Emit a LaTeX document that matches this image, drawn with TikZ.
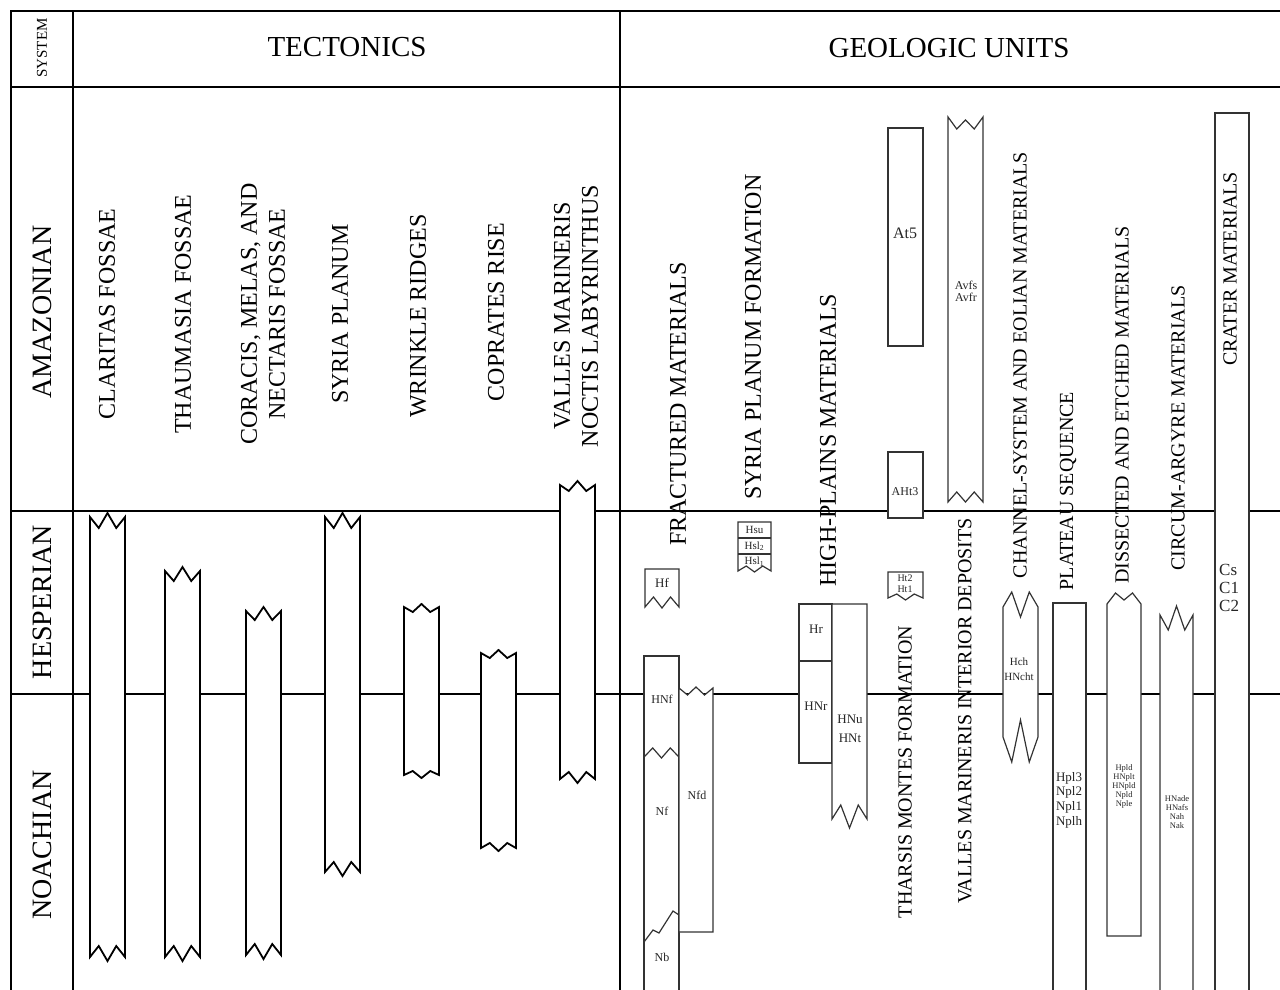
\documentclass[tikz,border=0pt]{standalone}
\usepackage{fontspec}
\setmainfont{Liberation Serif}
% bar with zigzag (or flat) ends: style, x1, x2, top corner, top in, top out, bottom corner, bottom in, bottom out
\newcommand\mybar[9]{%
\draw[#1] (#2,#4) -- ({#2+(#3-#2)/4},{#4+#5}) -- ({(#2+#3)/2},{#4-#6}) -- ({#2+3*(#3-#2)/4},{#4+#5}) -- (#3,#4)
 -- (#3,#7) -- ({#2+3*(#3-#2)/4},{#7-#8}) -- ({(#2+#3)/2},{#7+#9}) -- ({#2+(#3-#2)/4},{#7-#8}) -- (#2,#7) -- cycle;}
\begin{document}
\begin{tikzpicture}[x=1pt,y=-1pt,
  frame/.style={line width=2pt,black},
  tbar/.style={draw=black,line width=1.8pt,fill=white,line join=miter},
  gbar/.style={draw=black!80,line width=1.2pt,fill=white,line join=miter},
  gline/.style={draw=black!80,line width=1.2pt},
  hdr/.style={font=\fontsize{29}{31}\selectfont,inner sep=0pt},
  per/.style={rotate=90,font=\fontsize{28}{30}\selectfont,inner sep=0pt},
  tlbl/.style={rotate=90,align=center,font=\fontsize{24}{28}\selectfont,inner sep=0pt},
  glbl/.style={rotate=90,align=center,font=\fontsize{20}{24}\selectfont,inner sep=0pt},
  unit/.style={align=center,text=black!85,inner sep=0pt,font=\fontsize{12}{14}\selectfont}]
\useasboundingbox (0,0) rectangle (1280,990);
\clip (0,0) rectangle (1280,990);
\fill[white] (0,0) rectangle (1280,990);

% frame
\draw[frame] (1285,11) -- (11,11) -- (11,995);
\draw[frame] (73,11) -- (73,995);
\draw[frame] (620,11) -- (620,995);
\draw[frame] (11,87) -- (1285,87);
\draw[frame] (11,511) -- (1285,511);
\draw[frame] (11,694) -- (1285,694);

% headers
\node[rotate=90,font=\fontsize{15}{17}\selectfont,inner sep=0pt] (sys) at (42,48) {SYSTEM};
\node[hdr] (tec) at (347,47) {TECTONICS};
\node[hdr] (geo) at (949,48) {GEOLOGIC UNITS};
\node[per] (ama) at (42,312) {AMAZONIAN};
\node[per] (hes) at (42,602) {HESPERIAN};
\node[per] (noa) at (42,845) {NOACHIAN};

% tectonics labels
\node[tlbl] (t1) at (107,314) {CLARITAS FOSSAE};
\node[tlbl] (t2) at (183,314) {THAUMASIA FOSSAE};
\node[tlbl] (t3) at (263,314) {CORACIS, MELAS, AND\\NECTARIS FOSSAE};
\node[tlbl] (t4) at (340,314) {SYRIA PLANUM};
\node[tlbl] (t5) at (418,316) {WRINKLE RIDGES};
\node[tlbl] (t6) at (496,312) {COPRATES RISE};
\node[tlbl] (t7) at (576,316) {VALLES MARINERIS\\NOCTIS LABYRINTHUS};

% tectonics bars
\mybar{tbar}{90}{125}{517}{11}{4}{957}{11}{4}
\mybar{tbar}{165}{200}{571}{10}{4}{957}{11}{4}
\mybar{tbar}{246}{281}{611}{9}{4}{955}{11}{4}
\mybar{tbar}{325}{360}{517}{11}{4}{872}{10}{4}
\mybar{tbar}{404}{439}{607}{5}{3}{775}{4}{3}
\mybar{tbar}{481}{516}{653}{5}{3}{848}{5}{3}
\mybar{tbar}{560}{595}{485}{6}{4}{779}{7}{4}

% geologic unit labels
\node[tlbl] (g1) at (678,404) {FRACTURED MATERIALS};
\node[tlbl] (g2) at (753,337) {SYRIA PLANUM FORMATION};
\node[tlbl] (g3) at (828,440) {HIGH-PLAINS MATERIALS};
\node[glbl] (g4) at (905,772) {THARSIS MONTES FORMATION};
\node[glbl] (g5) at (965,711) {VALLES MARINERIS INTERIOR DEPOSITS};
\node[glbl] (g6) at (1020,365) {CHANNEL-SYSTEM AND EOLIAN MATERIALS};
\node[glbl] (g7) at (1068,491) {PLATEAU SEQUENCE};
\node[glbl] (g8) at (1122,405) {DISSECTED AND ETCHED MATERIALS};
\node[glbl] (g9) at (1178,428) {CIRCUM-ARGYRE MATERIALS};

% fractured materials
\mybar{gbar}{645}{679}{569}{0}{0}{607}{10}{1}
\node[unit,font=\fontsize{13}{15}\selectfont] (hf) at (662,583) {Hf};
\mybar{gbar}{644}{679}{656}{0}{0}{1000}{0}{0}
\draw[gline] (644,757) -- (652.75,748) -- (661.5,758) -- (670.25,748) -- (679,757);
\draw[gline] (644,942) -- (653,930) -- (659,933) -- (673,911) -- (679,915);
\node[unit] (hnf) at (662,699) {HNf};
\node[unit] (nf) at (662,811) {Nf};
\node[unit] (nb) at (662,957) {Nb};
\mybar{gbar}{679}{713}{688}{7}{1}{932}{0}{0}
\node[unit] (nfd) at (697,795) {Nfd};

% syria planum formation
\mybar{gbar}{738}{771}{522}{0}{0}{571}{5}{1}
\draw[gline] (738,538) -- (771,538);
\draw[gline] (738,554) -- (771,554);
\node[unit,font=\fontsize{11}{13}\selectfont] (hsu) at (754.5,530) {Hsu};
\node[unit,font=\fontsize{11}{13}\selectfont] (hsl2) at (754.5,546) {Hsl\textsubscript{2}};
\node[unit,font=\fontsize{11}{13}\selectfont] (hsl1) at (754.5,562) {Hsl\textsubscript{1}};

% high-plains materials
\mybar{gbar}{799}{832}{604}{0}{0}{763}{0}{0}
\draw[gline] (799,661) -- (832,661);
\node[unit,font=\fontsize{13}{15}\selectfont] (hr) at (816,629) {Hr};
\node[unit,font=\fontsize{13}{15}\selectfont] (hnr) at (816,706) {HNr};
\mybar{gbar}{832}{867}{604}{0}{0}{819}{14}{9}
\node[unit,font=\fontsize{13}{19}\selectfont] (hnu) at (850,729) {HNu\\HNt};

% tharsis montes formation
\mybar{gbar}{888}{923}{128}{0}{0}{346}{0}{0}
\node[unit,font=\fontsize{16}{18}\selectfont] (at5) at (905,233) {At5};
\mybar{gbar}{888}{923}{452}{0}{0}{518}{0}{0}
\node[unit] (aht3) at (905,492) {AHt3};
\mybar{gbar}{888}{923}{572}{0}{0}{598}{4}{2}
\node[unit,font=\fontsize{10}{11}\selectfont] (ht) at (905,584) {Ht2\\Ht1};

% valles marineris interior deposits
\mybar{gbar}{948}{983}{117}{12}{-3}{502}{10}{0}
\node[unit,font=\fontsize{12}{12}\selectfont] (avf) at (966,291) {Avfs\\Avfr};

% channel-system
\mybar{gbar}{1003}{1038}{607}{-15}{-10}{737}{-25}{-17}
\node[unit,font=\fontsize{11}{15}\selectfont] (hch) at (1019,669) {Hch\\HNcht};

% plateau sequence
\mybar{gbar}{1053}{1086}{603}{0}{0}{1000}{0}{0}
\node[unit,font=\fontsize{13}{14.7}\selectfont] (hpl) at (1069,800) {Hpl3\\Npl2\\Npl1\\Nplh};

% dissected and etched
\mybar{gbar}{1107}{1141}{604}{-11}{4}{936}{0}{0}
\node[unit,font=\fontsize{8.5}{9}\selectfont] (hpld) at (1124,786) {Hpld\\HNplt\\HNpld\\Npld\\Nple};

% circum-argyre
\mybar{gbar}{1160}{1193}{615}{15}{9}{1000}{0}{0}
\node[unit,font=\fontsize{8.5}{9}\selectfont] (hnade) at (1177,812) {HNade\\HNafs\\Nah\\Nak};

% crater materials
\mybar{gbar}{1215}{1249}{113}{0}{0}{1000}{0}{0}
\node[unit,align=left,anchor=west,font=\fontsize{17}{18}\selectfont] (cs) at (1219,588) {Cs\\C1\\C2};
\node[glbl] (g10) at (1230,269) {CRATER MATERIALS};
\end{tikzpicture}
\end{document}
